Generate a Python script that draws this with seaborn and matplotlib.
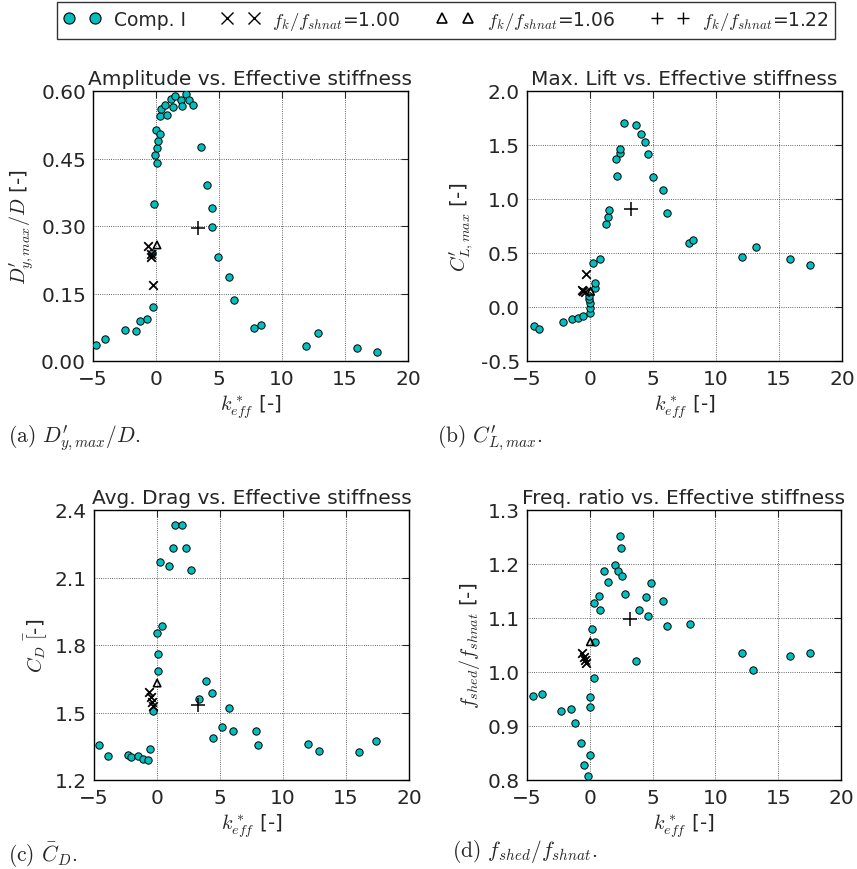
import numpy as np
import pandas as pd
import matplotlib
matplotlib.use("Agg")
import matplotlib.pyplot as plt
import seaborn as sns

# ---- data ----
# (a) amplitude
a_comp_x = [-4.74, -4.05, -2.49, -1.61, -1.30, -0.71, -0.26, -0.32, -0.13, -0.08, 0.05, 0.05, 0.13,
            -0.03, 0.34, 0.32, 0.42, 0.71, 0.90, 1.16, 1.35, 1.53, 2.01, 2.04, 2.41, 2.62, 2.96,
            3.57, 4.07, 4.44, 4.47, 4.95, 5.79, 6.19, 7.78, 8.31, 11.93, 12.86, 15.95, 17.51]
a_comp_y = [0.035, 0.050, 0.070, 0.067, 0.089, 0.094, 0.120, 0.241, 0.349, 0.457, 0.439, 0.473, 0.490,
            0.513, 0.504, 0.544, 0.559, 0.570, 0.547, 0.583, 0.564, 0.590, 0.580, 0.567, 0.593, 0.580, 0.570,
            0.475, 0.391, 0.341, 0.297, 0.232, 0.187, 0.136, 0.073, 0.079, 0.033, 0.062, 0.029, 0.021]
a_x100_x = [-0.61, -0.42, -0.38, -0.26]
a_x100_y = [0.256, 0.238, 0.232, 0.169]
a_x106_x = [0.08]
a_x106_y = [0.258]
a_x122_x = [3.31]
a_x122_y = [0.296]

# (b) max lift
b_comp_x = [-4.45, -4.02, -2.15, -1.44, -0.99, -0.56, 0.02, -0.01, -0.01, -0.04, -0.06, 0.41, 0.38,
            0.20, 0.78, 1.26, 1.39, 1.52, 2.15, 2.07, 2.37, 2.39, 2.73, 3.69, 4.08, 4.40, 4.64,
            4.98, 5.83, 6.14, 7.88, 8.17, 12.03, 13.14, 15.88, 17.47]
b_comp_y = [-0.179, -0.200, -0.142, -0.108, -0.105, -0.080, -0.052, -0.009, 0.034, 0.071, 0.102, 0.173, 0.222,
            0.404, 0.441, 0.769, 0.836, 0.898, 1.213, 1.373, 1.423, 1.463, 1.707, 1.685, 1.605, 1.528, 1.414,
            1.204, 1.086, 0.867, 0.593, 0.620, 0.463, 0.559, 0.441, 0.389]
b_x100_x = [-0.30, -0.62, -0.52, -0.42]
b_x100_y = [0.309, 0.160, 0.150, 0.140]
b_x106_x = [0.05]
b_x106_y = [0.145]
b_x122_x = [3.26]
b_x122_y = [0.904]

# (c) average drag
c_comp_x = [-4.60, -3.91, -2.27, -2.06, -1.50, -1.13, -0.68, -0.57, -0.28, 0.05, 0.08, 0.03, 0.36,
            0.25, 0.94, 1.26, 1.42, 1.95, 2.29, 2.66, 3.35, 3.85, 4.36, 4.46, 5.15, 5.74, 6.00,
            7.88, 7.99, 11.99, 12.82, 16.00, 17.40]
c_comp_y = [1.356, 1.305, 1.311, 1.304, 1.305, 1.293, 1.289, 1.338, 1.507, 1.683, 1.760, 1.852, 1.883,
            2.167, 2.151, 2.230, 2.332, 2.332, 2.233, 2.133, 1.560, 1.641, 1.585, 1.387, 1.436, 1.519, 1.419,
            1.419, 1.356, 1.361, 1.329, 1.324, 1.375]
c_x100_x = [-0.65, -0.49, -0.41, -0.31]
c_x100_y = [1.591, 1.570, 1.547, 1.527]
c_x106_x = [0.01]
c_x106_y = [1.631]
c_x122_x = [3.27]
c_x122_y = [1.532]

# (d) frequency ratio
d_comp_x = [-4.50, -3.78, -2.27, -1.50, -1.18, -0.68, -0.47, -0.15, 0.04, 0.04, 0.04, 0.30, 0.38,
            0.14, 0.83, 0.30, 0.72, 1.44, 1.12, 1.97, 2.21, 2.53, 2.50, 2.42, 2.79, 3.64, 3.88,
            4.46, 4.62, 4.86, 5.82, 6.13, 7.99, 12.15, 12.97, 15.97, 17.53]
d_comp_y = [0.955, 0.959, 0.928, 0.931, 0.906, 0.869, 0.828, 0.807, 0.846, 0.935, 0.954, 0.989, 1.055,
            1.079, 1.114, 1.127, 1.141, 1.166, 1.187, 1.199, 1.187, 1.177, 1.230, 1.251, 1.144, 1.020, 1.115,
            1.139, 1.104, 1.165, 1.131, 1.086, 1.088, 1.035, 1.004, 1.030, 1.035]
d_x100_x = [-0.63, -0.50, -0.41, -0.28]
d_x100_y = [1.035, 1.028, 1.023, 1.016]
d_x106_x = [0.04]
d_x106_y = [1.056]
d_x122_x = [3.17]
d_x122_y = [1.098]

titles = ["Amplitude vs. Effective stiffness", "Max. Lift vs. Effective stiffness",
          "Avg. Drag vs. Effective stiffness", "Freq. ratio vs. Effective stiffness"]
ylabels = [r"$D^{\prime}_{y,max}/D$ [-]", r"$C^{\prime}_{L,max}$ [-]", r"$C_D\ \bar{\mathrm{[}}$-]",
           r"$f_{shed}/f_{shnat}$ [-]"]
yticks = [[0.00, 0.15, 0.30, 0.45, 0.60], [-0.5, 0.0, 0.5, 1.0, 1.5, 2.0],
          [1.2, 1.5, 1.8, 2.1, 2.4], [0.8, 0.9, 1.0, 1.1, 1.2, 1.3]]
ytickfmt = ["{:.2f}", "{:.1f}", "{:.1f}", "{:.1f}"]
captions = [r"(a) $D^{\prime}_{y,max}/D$.", r"(b) $C^{\prime}_{L,max}$.", r"(c) $\bar{C}_D$.",
            r"(d) $f_{shed}/f_{shnat}$."]
legend_labels = ["Comp. I", r"$f_k/f_{shnat}$=1.00", r"$f_k/f_{shnat}$=1.06", r"$f_k/f_{shnat}$=1.22"]

panels = [
    (a_comp_x, a_comp_y, a_x100_x, a_x100_y, a_x106_x, a_x106_y, a_x122_x, a_x122_y),
    (b_comp_x, b_comp_y, b_x100_x, b_x100_y, b_x106_x, b_x106_y, b_x122_x, b_x122_y),
    (c_comp_x, c_comp_y, c_x100_x, c_x100_y, c_x106_x, c_x106_y, c_x122_x, c_x122_y),
    (d_comp_x, d_comp_y, d_x100_x, d_x100_y, d_x106_x, d_x106_y, d_x122_x, d_x122_y),
]

sns.set_style("white")
fs = 14.5
plt.rcParams.update({
    "font.family": ["DejaVu Sans"],
    "mathtext.fontset": "cm",
    "font.size": fs,
    "xtick.direction": "in", "ytick.direction": "in",
    "xtick.top": True, "ytick.right": True,
    "xtick.major.size": 5, "ytick.major.size": 5,
    "xtick.major.pad": 6, "ytick.major.pad": 5,
    "axes.edgecolor": "k", "axes.linewidth": 1.0,
})

W, H = 857, 870
fig = plt.figure(figsize=(W / 100, H / 100), dpi=100)
# pixel boxes of the four axes: left, top, right, bottom
boxes = [(93, 92, 408, 362), (527, 92, 842, 362), (94, 511, 409, 781), (527, 511, 841, 781)]
cap_pos = [(8, 438), (437, 438), (8, 855), (452, 852)]

teal = (0.0, 0.75, 0.75)
for i, (cx, cy, x1, y1, x2, y2, x3, y3) in enumerate(panels):
    l, t, r, b = boxes[i]
    ax = fig.add_axes([l / W, 1 - b / H, (r - l) / W, (b - t) / H])
    sns.scatterplot(x=cx, y=cy, ax=ax, color=teal, edgecolor="k", linewidth=0.7, s=28, zorder=3)
    sns.scatterplot(x=x1, y=y1, ax=ax, marker="x", color="k", linewidth=1.3, s=38, zorder=4)
    ax.scatter(x2, y2, marker="^", facecolors="none", edgecolors="k", linewidths=1.2, s=28, zorder=4)
    sns.scatterplot(x=x3, y=y3, ax=ax, marker="+", color="k", linewidth=1.1, s=95, zorder=4)
    ax.set_xlim(-5, 20)
    ax.set_xticks([-5, 0, 5, 10, 15, 20])
    ax.set_ylim(yticks[i][0], yticks[i][-1])
    ax.set_yticks(yticks[i])
    ax.set_yticklabels([ytickfmt[i].format(v) for v in yticks[i]])
    ax.tick_params(labelsize=fs)
    ax.grid(True, linestyle=":", color="k", linewidth=0.6, alpha=0.8)
    ax.set_axisbelow(True)
    ax.set_title(titles[i], fontsize=fs, pad=5)
    ax.set_xlabel(r"$k^*_{eff}$ [-]", fontsize=fs, labelpad=3)
    ax.set_ylabel(ylabels[i], fontsize=fs)
    for sp in ax.spines.values():
        sp.set_visible(True)
        sp.set_color("k")
    cx_, cy_ = cap_pos[i]
    fig.text(cx_ / W, 1 - cy_ / H, captions[i], fontsize=15.5, family="cmr10", va="center", ha="left")

handles = [
    plt.Line2D([], [], linestyle="none", marker="o", markersize=8, markerfacecolor=teal,
               markeredgecolor="k", markeredgewidth=0.8),
    plt.Line2D([], [], linestyle="none", marker="x", markersize=8, color="k", markeredgewidth=1.0),
    plt.Line2D([], [], linestyle="none", marker="^", markersize=7, markerfacecolor="none",
               markeredgecolor="k", markeredgewidth=1.2),
    plt.Line2D([], [], linestyle="none", marker="+", markersize=9, color="k", markeredgewidth=1.0),
]
leg = fig.legend(handles, legend_labels, loc="center", bbox_to_anchor=(446 / W, 1 - 21.5 / H),
                 ncol=4, numpoints=2, fontsize=13.5, frameon=True, fancybox=False,
                 handlelength=2.0, handletextpad=0.7, columnspacing=1.9, borderpad=0.35)
leg.get_frame().set_edgecolor("k")
leg.get_frame().set_linewidth(1.0)

fig.savefig("out.png", dpi=100, facecolor="white")
